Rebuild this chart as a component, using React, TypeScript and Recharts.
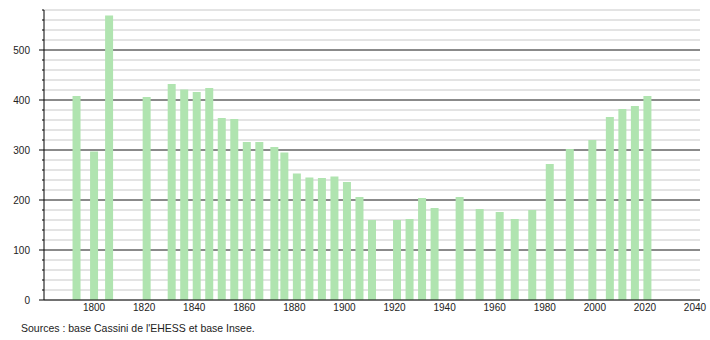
import React from "react";
import { BarChart, Bar, XAxis, YAxis, CartesianGrid } from "recharts";

const years = [1793, 1800, 1806, 1821, 1831, 1836, 1841, 1846, 1851, 1856, 1861, 1866, 1872, 1876, 1881, 1886, 1891, 1896, 1901, 1906, 1911, 1921, 1926, 1931, 1936, 1946, 1954, 1962, 1968, 1975, 1982, 1990, 1999, 2006, 2011, 2016, 2021];
const population = [408, 297, 569, 406, 432, 421, 416, 424, 364, 362, 316, 316, 306, 295, 253, 245, 244, 247, 236, 206, 160, 160, 162, 204, 184, 206, 182, 176, 162, 180, 272, 302, 320, 366, 382, 388, 408];
const xTicks = [1800, 1820, 1840, 1860, 1880, 1900, 1920, 1940, 1960, 1980, 2000, 2020, 2040];
const yTicks = [0, 20, 40, 60, 80, 100, 120, 140, 160, 180, 200, 220, 240, 260, 280, 300, 320, 340, 360, 380, 400, 420, 440, 460, 480, 500, 520, 540, 560, 580];
const majorY = [100, 200, 300, 400, 500];
const sourceText = "Sources : base Cassini de l'EHESS et base Insee.";

const data = years.map((y, i) => ({ year: y, pop: population[i] }));

const FONT = "'Liberation Sans', Arial, Helvetica, sans-serif";

const YTick = (props: any) => {
  const { x, y, payload } = props;
  const major = payload.value % 100 === 0;
  return (
    <g>
      <line x1={x - (major ? 5 : 2)} x2={x} y1={y} y2={y} stroke="#000" strokeWidth={1} />
      {major && (
        <text x={x - 14} y={y} dy="0.35em" textAnchor="end" fontSize={10} fill="#222" fontFamily={FONT}>
          {payload.value}
        </text>
      )}
    </g>
  );
};

export default function App() {
  return (
    <div style={{ position: "absolute", left: 0, top: 0, width: 710, height: 340, background: "#fff", fontFamily: FONT }}>
      <BarChart width={710} height={312} data={data} margin={{ top: 10, right: 10, left: 0, bottom: 0 }}>
        <CartesianGrid vertical={false} stroke="#c8c8c8" />
        <CartesianGrid vertical={false} stroke="#333" horizontalValues={majorY} />
        <XAxis
          type="number"
          dataKey="year"
          domain={[1780, 2042]}
          ticks={xTicks}
          height={12}
          tickLine={false}
          tickSize={0}
          tickMargin={4}
          axisLine={{ stroke: "#000" }}
          tick={{ fontSize: 10, fill: "#222", fontFamily: FONT }}
          allowDataOverflow
        />
        <YAxis
          type="number"
          domain={[0, 580]}
          ticks={yTicks}
          width={44}
          tickSize={0}
          tickMargin={0}
          tickLine={false}
          axisLine={{ stroke: "#000" }}
          tick={<YTick />}
          interval={0}
        />
        <Bar dataKey="pop" fill="#b0e4b0" barSize={8} isAnimationActive={false} />
      </BarChart>
      <div style={{ position: "absolute", left: 21, top: 322, fontSize: 10.5, color: "#222", whiteSpace: "nowrap" }}>
        {sourceText}
      </div>
    </div>
  );
}
